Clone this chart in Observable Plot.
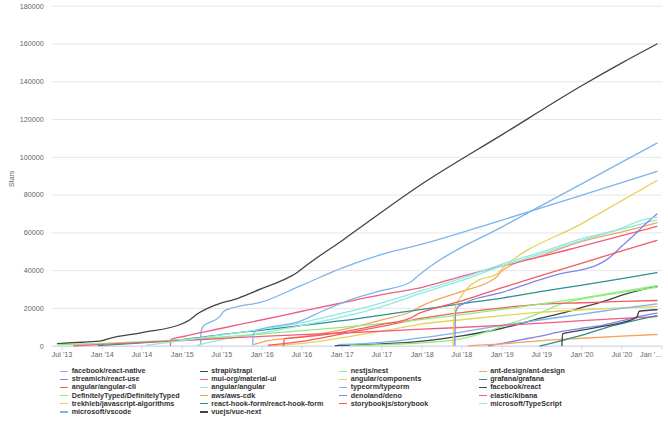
<!DOCTYPE html>
<html><head><meta charset="utf-8">
<script src="https://cdn.jsdelivr.net/npm/d3@7"></script>
<script src="https://cdn.jsdelivr.net/npm/@observablehq/plot@0.6"></script>
<style>
body{margin:0;background:#fff;font-family:"Liberation Sans",Arial,sans-serif;}
#chart{width:668px;position:relative;}
#chart svg{display:block;}
.legend{display:grid;grid-template-columns:repeat(4,139.5px);padding:5.25px 0 0 60px;}
.item{height:8.1px;line-height:8.1px;font-size:7.2px;font-weight:bold;color:#333;display:flex;align-items:center;white-space:nowrap;}
.sw{width:8px;height:1.5px;margin-right:3.7px;flex:none;}
</style></head>
<body><div id="chart"></div>
<script>
const names = ["facebook/react-native","strapi/strapi","nestjs/nest","ant-design/ant-design",
"streamich/react-use","mui-org/material-ui","angular/components","grafana/grafana",
"angular/angular-cli","angular/angular","typeorm/typeorm","facebook/react",
"DefinitelyTyped/DefinitelyTyped","aws/aws-cdk","denoland/deno","elastic/kibana",
"trekhleb/javascript-algorithms","react-hook-form/react-hook-form","storybookjs/storybook","microsoft/TypeScript",
"microsoft/vscode","vuejs/vue-next"];
const colors = ["#7cb5ec","#434348","#90ed7d","#f7a35c","#8085e9","#f15c80","#e4d354","#2b908f","#f45b5b","#91e8e1"];

const reactNative = [["2015-03-26",1500],["2015-03-28",8000],["2015-04-10",11000],["2015-04-25",12000],["2015-06-20",15500],["2015-07-10",18500],["2015-08-15",20100],["2016-01-01",23500],["2016-07-01",32300],["2017-01-01",41500],["2017-07-01",48600],["2018-01-01",54000],["2019-01-01",66800],["2020-01-01",80000],["2020-12-08",92500]];
const strapi = [["2016-12-01",300],["2017-07-01",1200],["2018-01-01",2700],["2018-07-01",5500],["2019-01-01",9500],["2019-07-01",15000],["2019-10-01",17500],["2020-01-01",20500],["2020-05-01",24500],["2020-07-01",27000],["2020-10-01",30000],["2020-12-08",31500]];
const nest = [["2017-02-08",300],["2017-07-01",800],["2018-01-01",1800],["2018-07-01",4000],["2018-11-01",8000],["2019-01-01",10500],["2019-04-01",14000],["2019-07-01",18000],["2019-10-01",22500],["2020-01-01",25000],["2020-07-01",28500],["2020-12-08",31200]];
const antDesign = [["2015-11-26",1000],["2016-01-01",2200],["2016-07-01",5000],["2017-01-01",8800],["2017-07-01",14000],["2017-11-15",18500],["2018-01-01",21500],["2018-07-01",29000],["2018-11-01",34000],["2018-12-05",36500],["2019-01-01",40000],["2019-07-01",48000],["2020-01-01",55500],["2020-07-01",60500],["2020-12-08",65300]];
const reactUse = [["2018-10-30",200],["2019-01-01",1500],["2019-04-01",3500],["2019-07-01",5500],["2019-10-01",7800],["2020-01-01",9500],["2020-04-01",11000],["2020-07-01",13500],["2020-10-01",16000],["2020-12-08",17500]];
const materialUi = [["2014-11-08",500],["2014-11-10",3500],["2015-01-01",5000],["2015-07-01",9500],["2016-01-01",14000],["2016-07-01",18500],["2017-01-01",23000],["2017-07-01",27300],["2018-01-01",31200],["2018-07-01",37000],["2019-01-01",42500],["2019-07-01",47500],["2020-01-01",53000],["2020-07-01",58500],["2020-12-08",63400]];
const angularComponents = [["2016-02-22",300],["2016-07-01",1500],["2017-01-01",4500],["2017-07-01",8000],["2018-01-01",11800],["2018-07-01",14000],["2019-01-01",16200],["2019-07-01",18000],["2020-01-01",19300],["2020-07-01",20300],["2020-12-08",21000]];
const grafana = [["2013-12-14",300],["2014-07-01",1800],["2015-01-01",3500],["2015-08-15",6800],["2016-01-01",8500],["2016-07-01",11000],["2017-01-01",13500],["2017-07-01",16500],["2018-01-01",19500],["2018-07-01",22500],["2019-01-01",25500],["2019-07-01",29000],["2020-01-01",32300],["2020-07-01",35800],["2020-12-08",39000]];
const angularCli = [["2016-01-30",500],["2016-07-01",2500],["2017-01-01",6500],["2017-07-01",10500],["2018-01-01",14800],["2018-07-01",17800],["2019-01-01",20300],["2019-07-01",22300],["2020-01-01",23000],["2020-07-01",23700],["2020-12-08",24200]];
const angular = [["2015-03-10",500],["2015-07-01",3500],["2016-01-01",7000],["2016-07-01",11000],["2017-01-01",15500],["2017-07-01",21000],["2018-01-01",28200],["2018-07-01",34800],["2019-01-01",42500],["2019-07-01",49000],["2020-01-01",56000],["2020-07-01",62000],["2020-12-08",66900]];
const typeorm = [["2016-12-15",800],["2017-07-01",2000],["2018-01-01",4500],["2018-07-01",7500],["2019-01-01",11000],["2019-07-01",14000],["2020-01-01",17000],["2020-07-01",20000],["2020-12-08",22400]];
const react = [["2013-06-10",1400],["2013-10-01",2100],["2014-01-01",3000],["2014-02-05",4200],["2014-07-01",7200],["2015-01-01",11900],["2015-02-05",14000],["2015-03-10",17000],["2015-05-15",21000],["2015-09-15",25500],["2016-01-01",30600],["2016-04-15",35500],["2016-06-15",39500],["2016-07-01",41000],["2017-01-01",56000],["2018-01-01",86000],["2019-01-01",112000],["2020-01-01",138000],["2020-07-01",150000],["2020-12-08",160000]];
const definitelyTyped = [["2013-06-10",800],["2014-01-01",1500],["2015-01-01",3500],["2016-01-01",6500],["2017-01-01",10000],["2018-01-01",14200],["2019-01-01",19500],["2019-07-01",22400],["2020-01-01",25500],["2020-07-01",29000],["2020-12-08",32100]];
const awsCdk = [["2018-07-30",200],["2019-01-01",1200],["2019-07-01",3000],["2020-01-01",4200],["2020-07-01",5300],["2020-12-08",6200]];
const deno = [["2018-05-30",500],["2018-06-02",18000],["2018-06-15",21000],["2018-07-01",22000],["2018-08-01",23800],["2019-01-01",28500],["2019-07-01",35500],["2019-10-01",38500],["2020-01-01",40500],["2020-03-01",42500],["2020-05-01",46500],["2020-07-01",53000],["2020-09-01",59500],["2020-10-01",63000],["2020-12-08",70000]];
const kibana = [["2013-08-23",200],["2014-01-01",1000],["2015-01-01",3000],["2015-09-01",4500],["2016-01-01",5200],["2017-01-01",7000],["2018-01-01",9000],["2019-01-01",11000],["2019-07-01",12200],["2020-01-01",13500],["2020-07-01",14700],["2020-12-08",15700]];
const jsAlgorithms = [["2018-05-22",500],["2018-05-26",15000],["2018-06-05",22000],["2018-06-20",25000],["2018-07-01",27000],["2018-08-01",31500],["2018-09-15",35000],["2018-12-05",38000],["2019-01-01",41000],["2020-01-01",65000],["2020-12-08",87700]];
const reactHookForm = [["2019-06-23",200],["2019-10-01",3000],["2020-01-01",5800],["2020-04-24",10000],["2020-07-01",12000],["2020-12-08",16200]];
const storybook = [["2016-04-08",300],["2016-04-11",4000],["2016-07-01",4800],["2017-01-01",7500],["2017-07-01",11500],["2017-11-10",15000],["2017-12-10",17000],["2018-01-01",18000],["2018-07-01",24000],["2019-01-01",31000],["2019-07-01",37500],["2020-01-01",44000],["2020-07-01",50500],["2020-12-08",56000]];
const typescript = [["2014-07-22",500],["2015-01-01",3000],["2015-07-01",6000],["2016-01-01",9000],["2016-07-01",12500],["2017-01-01",17500],["2017-07-01",23000],["2018-01-01",29500],["2018-07-01",36000],["2019-01-01",43500],["2019-07-01",50000],["2020-01-01",57000],["2020-07-01",62500],["2020-09-10",66000],["2020-12-08",68300]];
const vscode = [["2015-11-19",500],["2015-11-21",6000],["2015-12-05",8300],["2016-06-20",13100],["2016-10-01",18500],["2017-02-08",24600],["2017-07-01",29500],["2017-11-10",34000],["2017-12-10",37000],["2018-01-01",39000],["2018-03-01",44000],["2019-01-01",63200],["2020-01-01",86100],["2020-12-08",107500]];
const vueNext = [["2019-10-01",300],["2019-10-04",6500],["2019-11-07",7400],["2020-01-01",8500],["2020-04-24",10900],["2020-07-01",12500],["2020-09-07",15400],["2020-09-18",18500],["2020-12-08",19300]];

const seriesData = [reactNative, strapi, nest, antDesign, reactUse, materialUi, angularComponents, grafana,
  angularCli, angular, typeorm, react, definitelyTyped, awsCdk, deno, kibana, jsAlgorithms, reactHookForm,
  storybook, typescript, vscode, vueNext];
const yTicks = [0,20000,40000,60000,80000,100000,120000,140000,160000,180000];
const xTickLabels = ["2013-07-01","2014-01-01","2014-07-01","2015-01-01","2015-07-01","2016-01-01","2016-07-01","2017-01-01","2017-07-01","2018-01-01","2018-07-01","2019-01-01","2019-07-01","2020-01-01","2020-07-01","2021-01-01"];

const seriesColors = names.map((n, i) => colors[i % colors.length]);
const rows = seriesData.flatMap((pts, i) => pts.map(([d, v]) => ({name: names[i], date: new Date(d + "T00:00:00Z"), stars: v})));
const xTicks = xTickLabels.map(d => new Date(d + "T00:00:00Z"));
const fmt = d3.utcFormat("%b '%y");

const chart = Plot.plot({
  width: 668, height: 362,
  marginLeft: 51.7, marginRight: 6.3, marginTop: 5.7, marginBottom: 16.3,
  style: {fontFamily: "'Liberation Sans', Arial, sans-serif", fontSize: "7.2px", background: "#fff", overflow: "visible"},
  x: {type: "utc", domain: [new Date("2013-05-17T00:00:00Z"), new Date("2021-01-01T00:00:00Z")]},
  y: {domain: [0, 180000]},
  color: {domain: names, range: seriesColors},
  marks: [
    Plot.gridY(yTicks, {stroke: "#e6e6e6", strokeOpacity: 1}),
    Plot.axisY(yTicks, {tickSize: 0, tickPadding: 8.4, fill: "#666", tickFormat: d => String(d), label: null}),
    Plot.ruleY([0], {stroke: "#ccd6eb"}),
    Plot.axisX(xTicks.slice(0, -1), {tickSize: 4, tickPadding: 2, stroke: "#ccd6eb", fill: "#666", tickFormat: fmt, label: null}),
    Plot.axisX(xTicks.slice(-1), {tickSize: 4, tickPadding: 2, stroke: "#ccd6eb", fill: "#666", textAnchor: "end", tickFormat: () => "Jan '…", label: null}),
    Plot.line(rows, {x: "date", y: "stars", z: "name", stroke: "name", strokeWidth: 1.3, curve: "monotone-x"}),
    Plot.text(["Stars"], {text: d => d, frameAnchor: "left", textAnchor: "middle", dx: -40, dy: 2.6, rotate: -90, fill: "#666", fontSize: 7})
  ]
});
const root = document.getElementById("chart");
root.appendChild(chart);
const legend = document.createElement("div");
legend.className = "legend";
names.forEach((n, i) => {
  const it = document.createElement("div");
  it.className = "item";
  const sw = document.createElement("span");
  sw.className = "sw";
  sw.style.background = seriesColors[i];
  const t = document.createElement("span");
  t.textContent = n;
  it.appendChild(sw); it.appendChild(t);
  legend.appendChild(it);
});
root.appendChild(legend);
</script></body></html>
